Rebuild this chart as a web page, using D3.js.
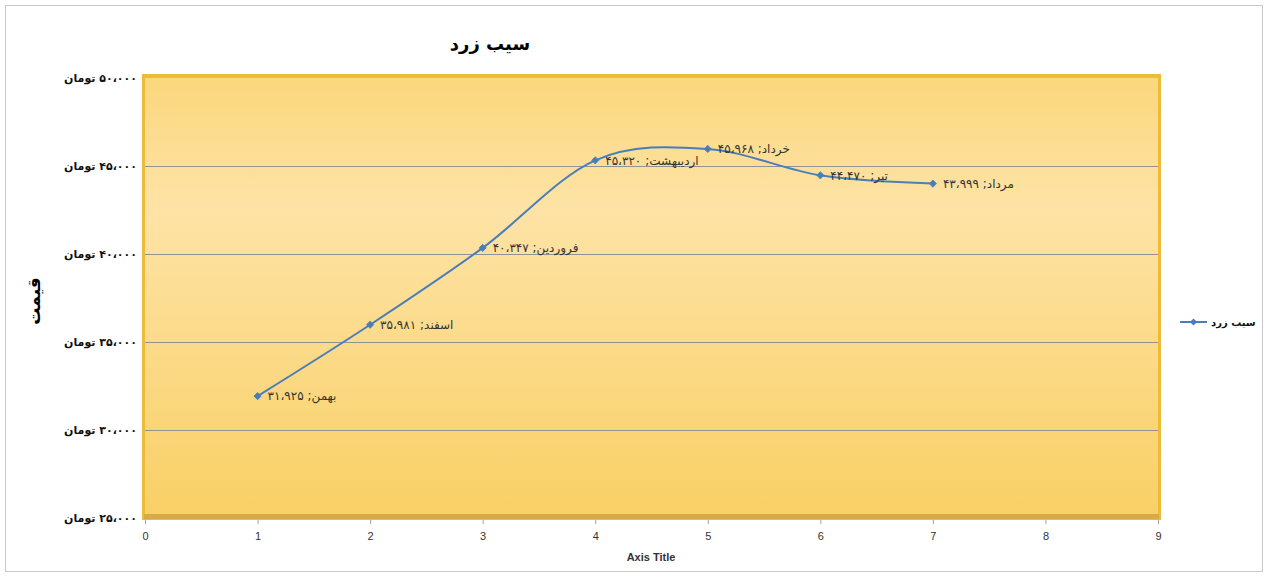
<!DOCTYPE html>
<html>
<head>
<meta charset="utf-8">
<script src="https://cdn.jsdelivr.net/npm/d3@7"></script>
<style>
  html, body { margin: 0; padding: 0; background: #fff; }
  svg { display: block; }
</style>
</head>
<body>
<svg id="chart" width="1268" height="577"></svg>
<script>
// ---- data ----
const months = ["بهمن", "اسفند", "فروردین", "اردیبهشت", "خرداد", "تیر", "مرداد"];
const xValues = [1, 2, 3, 4, 5, 6, 7];
const prices = [31925, 35981, 40347, 45320, 45968, 44470, 43999];
const yTicks = [25000, 30000, 35000, 40000, 45000, 50000];
const xTicks = [0, 1, 2, 3, 4, 5, 6, 7, 8, 9];
const seriesName = "سیب زرد";
const chartTitle = "سیب زرد";
const yTitle = "قیمت";
const xTitle = "Axis Title";
const currency = "تومان";

const faDigits = "۰۱۲۳۴۵۶۷۸۹";
function fa(n) {
  const s = String(n).replace(/\B(?=(\d{3})+(?!\d))/g, "،");
  return s.replace(/\d/g, d => faDigits[+d]);
}

const svg = d3.select("#chart");
const W = 1268, H = 577;
const plot = { left: 145, right: 1158, top: 78, bottom: 518 };

const x = d3.scaleLinear().domain([0, 9]).range([plot.left, plot.right]);
const y = d3.scaleLinear().domain([25000, 50000]).range([plot.bottom, plot.top]);

const defs = svg.append("defs");
const g1 = defs.append("linearGradient").attr("id", "bg").attr("x1", 0).attr("y1", 0).attr("x2", 0).attr("y2", 1);
g1.append("stop").attr("offset", "0%").attr("stop-color", "#FBD77C");
g1.append("stop").attr("offset", "30%").attr("stop-color", "#FDE3A6");
g1.append("stop").attr("offset", "100%").attr("stop-color", "#F9D066");

// outer chart border
svg.append("rect").attr("x", 5.5).attr("y", 5.5).attr("width", W - 11).attr("height", H - 11)
  .attr("fill", "#fff").attr("stroke", "#c8c8c8").attr("stroke-width", 1);

// plot area frame (bevel)
svg.append("rect").attr("x", plot.left - 3).attr("y", plot.top - 4)
  .attr("width", plot.right - plot.left + 6).attr("height", plot.bottom - plot.top + 6)
  .attr("fill", "#EDBB38");
svg.append("rect").attr("x", plot.left - 1).attr("y", plot.bottom - 4)
  .attr("width", plot.right - plot.left + 2).attr("height", 5)
  .attr("fill", "#D6AA4A");
svg.append("rect").attr("x", plot.left).attr("y", plot.top)
  .attr("width", plot.right - plot.left).attr("height", plot.bottom - plot.top - 4)
  .attr("fill", "url(#bg)");

// gridlines
svg.append("g").selectAll("line").data(yTicks.filter(t => t > 25000 && t < 50000)).join("line")
  .attr("x1", plot.left).attr("x2", plot.right)
  .attr("y1", d => Math.round(y(d)) + 0.5).attr("y2", d => Math.round(y(d)) + 0.5)
  .attr("stroke", "#929292").attr("stroke-width", 1);

// x axis
const xAxis = d3.axisBottom(x).tickValues(xTicks).tickSize(4).tickSizeOuter(0).tickFormat(d3.format("d"));
const gx = svg.append("g").attr("transform", `translate(0,${plot.bottom + 2})`).call(xAxis);
gx.select(".domain").remove();
gx.selectAll(".tick line").attr("stroke", "#a0a0a0");
gx.selectAll(".tick text").attr("font-family", "Liberation Sans Narrow, Liberation Sans, sans-serif")
  .attr("font-size", 11).attr("fill", "#333").attr("dy", "1.15em");

// y axis labels
const yAxis = d3.axisLeft(y).tickValues(yTicks).tickSize(0)
  .tickFormat(d => fa(d) + " " + currency);
const gy = svg.append("g").attr("transform", `translate(${plot.left - 8},0)`).call(yAxis);
gy.select(".domain").remove();
gy.selectAll(".tick text")
  .attr("font-family", "DejaVu Sans, sans-serif").attr("font-size", 11).attr("font-weight", "bold")
  .attr("fill", "#111").attr("direction", "rtl").attr("text-anchor", "start").attr("x", 0);

// line
const pts = xValues.map((v, i) => [x(v), y(prices[i])]);
svg.append("path").attr("d", d3.line().curve(d3.curveCatmullRom.alpha(0))(pts))
  .attr("fill", "none").attr("stroke", "#4A7EBB").attr("stroke-width", 2);

// markers (rotated squares)
const diamond = d3.symbol().type(d3.symbolSquare).size(26);
svg.append("g").selectAll("path").data(pts).join("path")
  .attr("d", diamond).attr("transform", d => `translate(${d[0]},${d[1]}) rotate(45)`)
  .attr("fill", "#4A7EBB").attr("stroke", "#4A7EBB").attr("stroke-width", 0.8);

// data labels
svg.append("g").selectAll("text").data(months).join("text")
  .attr("x", (d, i) => x(xValues[i]) + 10)
  .attr("y", (d, i) => y(prices[i]))
  .attr("dy", "0.35em")
  .attr("direction", "rtl").attr("text-anchor", "end")
  .attr("font-family", "DejaVu Sans, sans-serif").attr("font-size", 12).attr("fill", "#333")
  .text((d, i) => d + "; " + fa(prices[i]));

// title
svg.append("text").attr("x", 490).attr("y", 50).attr("text-anchor", "middle")
  .attr("font-family", "DejaVu Sans, sans-serif").attr("font-size", 18).attr("font-weight", "bold")
  .attr("fill", "#000").text(chartTitle);

// y title
svg.append("text").attr("transform", `translate(40,${(plot.top + plot.bottom) / 2 + 3}) rotate(-90)`)
  .attr("text-anchor", "middle").attr("font-family", "DejaVu Sans, sans-serif")
  .attr("font-size", 17).attr("font-weight", "bold").attr("fill", "#000").text(yTitle);

// x title
svg.append("text").attr("x", 651).attr("y", 561).attr("text-anchor", "middle")
  .attr("font-family", "Liberation Sans Narrow, Liberation Sans, sans-serif")
  .attr("font-size", 11).attr("font-weight", "bold").attr("fill", "#333").text(xTitle);

// legend
const lg = svg.append("g").attr("transform", "translate(1180,322)");
lg.append("line").attr("x1", 0).attr("x2", 27).attr("stroke", "#4A7EBB").attr("stroke-width", 2);
lg.append("path").attr("d", diamond).attr("transform", "translate(13.5,0) rotate(45)").attr("fill", "#4A7EBB");
lg.append("text").attr("x", 31).attr("dy", "0.35em").attr("direction", "rtl").attr("text-anchor", "end")
  .attr("font-family", "DejaVu Sans, sans-serif").attr("font-size", 10).attr("font-weight", "bold")
  .attr("fill", "#111").text(seriesName);
</script>
</body>
</html>
